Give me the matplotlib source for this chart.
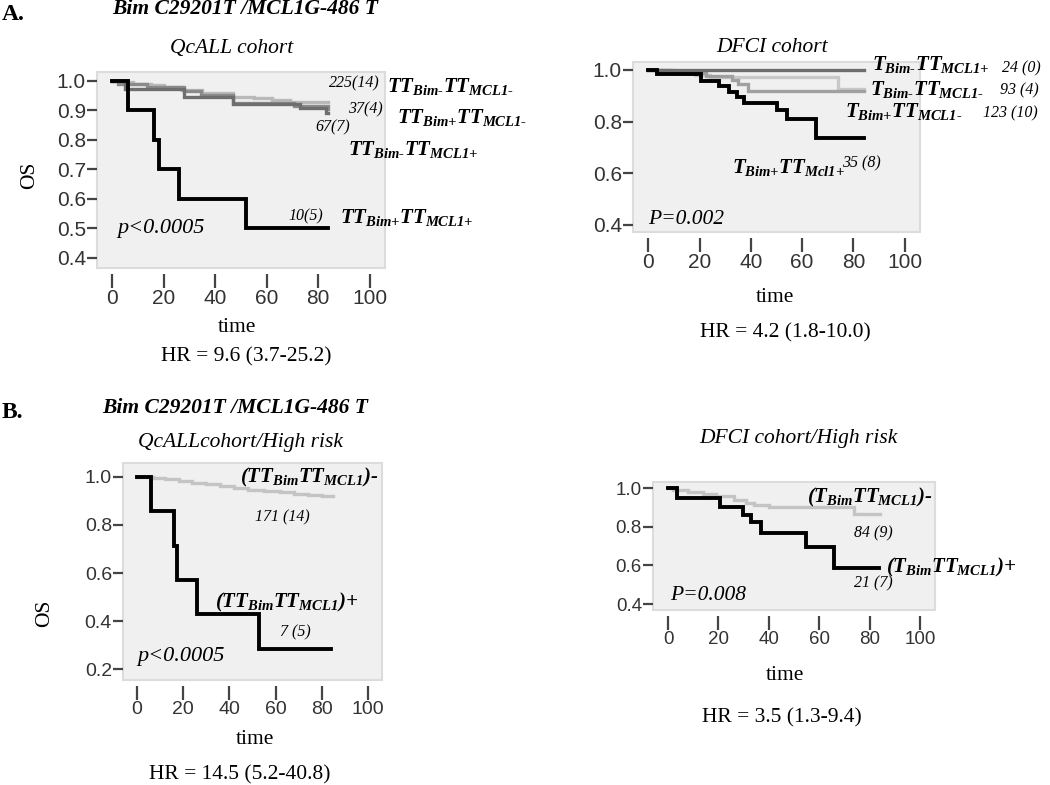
import matplotlib
matplotlib.use("Agg")
import matplotlib.pyplot as plt

# A. whole cohorts: QcALL (left)
qc_bimp_mclp_t = [0, 6, 16, 18, 26, 52, 84]
qc_bimp_mclp_s = [1.0, 0.9, 0.8, 0.7, 0.6, 0.5, 0.5]
qc_bimm_mclm_t = [0, 3, 8, 15, 20, 27, 35, 47, 55, 62, 69, 84]
qc_bimm_mclm_s = [1.0, 0.995, 0.99, 0.985, 0.978, 0.97, 0.96, 0.947, 0.942, 0.937, 0.93, 0.93]
qc_bimp_mclm_t = [0, 5, 28, 47, 73, 83, 84]
qc_bimp_mclm_s = [1.0, 0.973, 0.946, 0.922, 0.908, 0.89, 0.89]
qc_bimm_mclp_t = [0, 2, 13.5, 28, 34.6, 47, 70.5, 84]
qc_bimm_mclp_s = [1.0, 0.99, 0.98, 0.965, 0.952, 0.925, 0.914, 0.905]

# A. DFCI (right)
df_bimp_mclp_t = [0, 3.5, 20.5, 27.5, 31.5, 34.5, 37.5, 50, 54, 65.5, 84]
df_bimp_mclp_s = [1.0, 0.984, 0.958, 0.938, 0.916, 0.897, 0.873, 0.845, 0.81, 0.736, 0.736]
df_bimm_mclp_t = [0, 84]
df_bimm_mclp_s = [1.0, 1.0]
df_bimm_mclm_t = [0, 10, 18, 24, 74, 84]
df_bimm_mclm_s = [1.0, 0.99, 0.98, 0.972, 0.925, 0.925]
df_bimp_mclm_t = [0, 8, 22.5, 32.5, 35, 39, 84]
df_bimp_mclm_s = [1.0, 0.99, 0.975, 0.96, 0.945, 0.92, 0.92]

# B. high risk QcALL (left)
hq_pos_t = [0, 6.3, 16, 17.5, 26, 52.6, 84]
hq_pos_s = [1.0, 0.857, 0.714, 0.571, 0.429, 0.286, 0.286]
hq_neg_t = [0, 7, 12, 18, 24, 30, 36, 42, 48, 55, 62, 68, 74, 80, 85]
hq_neg_s = [1.0, 0.995, 0.99, 0.983, 0.976, 0.968, 0.96, 0.953, 0.946, 0.94, 0.935, 0.93, 0.925, 0.92, 0.92]

# B. high risk DFCI (right)
hd_pos_t = [0, 3.6, 20.6, 29.8, 33, 37, 54.7, 65.9, 83.6]
hd_pos_s = [1.0, 0.947, 0.904, 0.86, 0.826, 0.767, 0.697, 0.586, 0.586]
hd_neg_t = [0, 2, 8, 14, 19, 26, 31, 34, 40, 74, 84]
hd_neg_s = [1.0, 0.99, 0.98, 0.97, 0.96, 0.94, 0.925, 0.91, 0.90, 0.865, 0.865]

x_ticks = [0, 20, 40, 60, 80, 100]

plt.rcParams['mathtext.fontset'] = 'custom'
plt.rcParams['mathtext.rm'] = 'Liberation Serif:bold:italic'
plt.rcParams['mathtext.it'] = 'Liberation Serif:bold:italic'
plt.rcParams['mathtext.bf'] = 'Liberation Serif:bold:italic'

W, H = 1050, 785
fig = plt.figure(figsize=(10.5, 7.85), dpi=100)

SERIF = 'Liberation Serif'
M = r'\text{-}'  # plain hyphen inside math labels
P = r'{+}'


def px_axes(x0, y0, x1, y1):
    # box given in pixels from the top-left corner
    return fig.add_axes([x0 / W, 1 - y1 / H, (x1 - x0) / W, (y1 - y0) / H])


def txt(x, y, s, size=15.5, style='normal', weight='normal', ha='left', va='center', rot=0):
    fig.text(x / W, 1 - y / H, s, fontsize=size, family=SERIF, style=style,
             weight=weight, ha=ha, va=va, rotation=rot)


def lab(x, y, first, bim, mcl, tail=''):
    # genotype label like TT_{Bim-}TT_{MCL1+}, baseline at y
    s = '$' + first + '_{' + bim + '}TT_{' + mcl + '}' + tail + '$'
    txt(x, y, s, size=15, va='baseline')


def setup(ax, ylim, yticks, tsize):
    ax.set_facecolor('#f0f0f0')
    for sp in ax.spines.values():
        sp.set_visible(False)
    ax.patch.set_edgecolor('#dcdcdc')
    ax.patch.set_linewidth(1.5)
    ax.spines['bottom'].set_position(('outward', 4))
    ax.set_xlim(-6, 106)
    ax.set_ylim(*ylim)
    ax.set_xticks(x_ticks)
    ax.set_yticks(yticks)
    ax.set_yticklabels([f'{v:.1f}' for v in yticks])
    ax.tick_params(axis='x', direction='out', length=10, width=1.6, color='#444444', pad=1)
    ax.tick_params(axis='y', direction='out', length=7, width=1.6, color='#444444', pad=1)
    ax.tick_params(labelsize=tsize, labelcolor='#333333', labelfontfamily='Liberation Sans')


def km(ax, t, s, color, lw):
    ax.step(t, s, where='post', color=color, lw=lw, solid_joinstyle='miter')


# ---------- A left ----------
ax1 = px_axes(97, 72, 385, 268)
setup(ax1, (0.366, 1.0305), [0.4, 0.5, 0.6, 0.7, 0.8, 0.9, 1.0], 15)
km(ax1, qc_bimm_mclm_t, qc_bimm_mclm_s, '#b9b9b9', 2.4)
km(ax1, qc_bimm_mclp_t, qc_bimm_mclp_s, '#8a8a8a', 2.4)
km(ax1, qc_bimp_mclm_t, qc_bimp_mclm_s, '#6e6e6e', 2.4)
km(ax1, qc_bimp_mclp_t, qc_bimp_mclp_s, 'black', 2.8)

# ---------- A right ----------
ax2 = px_axes(633, 62, 920, 232)
setup(ax2, (0.372, 1.031), [0.4, 0.6, 0.8, 1.0], 15)
km(ax2, df_bimm_mclm_t, df_bimm_mclm_s, '#c8c8c8', 2.4)
km(ax2, df_bimp_mclm_t, df_bimp_mclm_s, '#a0a0a0', 2.4)
km(ax2, df_bimm_mclp_t, df_bimm_mclp_s, '#6e6e6e', 2.4)
km(ax2, df_bimp_mclp_t, df_bimp_mclp_s, 'black', 2.8)

# ---------- B left ----------
ax3 = px_axes(123, 463, 382, 680)
setup(ax3, (0.156, 1.057), [0.2, 0.4, 0.6, 0.8, 1.0], 14)
km(ax3, hq_neg_t, hq_neg_s, '#c4c4c4', 2.4)
km(ax3, hq_pos_t, hq_pos_s, 'black', 2.8)

# ---------- B right ----------
ax4 = px_axes(653, 482, 935, 610)
setup(ax4, (0.37, 1.031), [0.4, 0.6, 0.8, 1.0], 13.5)
km(ax4, hd_neg_t, hd_neg_s, '#c4c4c4', 2.4)
km(ax4, hd_pos_t, hd_pos_s, 'black', 2.8)

# ---------- texts ----------
txt(2, 14, 'A.', size=17, weight='bold')
txt(112, 9, 'Bim C29201T /MCL1G-486 T', size=15.5, style='italic', weight='bold')
txt(232, 49, 'QcALL cohort', size=15.5, style='italic', ha='center')
txt(772, 47, 'DFCI cohort', size=15.5, style='italic', ha='center')
txt(30, 175, 'OS', ha='center', rot=90)
txt(237, 327, 'time', ha='center')
txt(246, 357, 'HR = 9.6 (3.7-25.2)', ha='center')
txt(775, 297, 'time', ha='center')
txt(785, 333, 'HR = 4.2 (1.8-10.0)', ha='center')

# A left curve labels
txt(380, 83, '225(14)', size=11.5, style='italic', ha='right')
lab(387, 92, 'TT', 'Bim' + M, 'MCL1' + M)
txt(383, 109, '37(4)', size=11.5, style='italic', ha='right')
lab(397, 123, 'TT', 'Bim' + P, 'MCL1' + M)
txt(350, 127, '67(7)', size=11.5, style='italic', ha='right')
lab(348, 155, 'TT', 'Bim' + M, 'MCL1' + P)
txt(323, 216, '10(5)', size=11.5, style='italic', ha='right')
lab(340, 223, 'TT', 'Bim' + P, 'MCL1' + P)
txt(117, 228, 'p<0.0005', size=16, style='italic')

# A right curve labels
lab(872, 70, 'T', 'Bim' + M, 'MCL1' + P)
txt(1002, 68, '24 (0)', size=11.5, style='italic')
lab(870, 95, 'T', 'Bim' + M, 'MCL1' + M)
txt(1000, 90, '93 (4)', size=11.5, style='italic')
lab(845, 117, 'T', 'Bim' + P, 'MCL1' + M)
txt(983, 113, '123 (10)', size=11.5, style='italic')
lab(732, 173, 'T', 'Bim' + P, 'Mcl1' + P)
txt(842, 163, '35 (8)', size=11.5, style='italic')
txt(648, 220, 'P=0.002', size=15.5, style='italic')

# B
txt(2, 412, 'B.', size=17, weight='bold')
txt(102, 408, 'Bim C29201T /MCL1G-486 T', size=15.5, style='italic', weight='bold')
txt(240, 442, 'QcALLcohort/High risk', style='italic', ha='center')
txt(45, 613, 'OS', ha='center', rot=90)
txt(255, 740, 'time', ha='center')
txt(240, 775, 'HR = 14.5 (5.2-40.8)', ha='center')
lab(240, 482, '(TT', 'Bim', 'MCL1', ')' + M)
txt(282, 517, '171 (14)', size=11.5, style='italic', ha='center')
lab(215, 607, '(TT', 'Bim', 'MCL1', ')' + P)
txt(295, 632, '7 (5)', size=11.5, style='italic', ha='center')
txt(137, 656, 'p<0.0005', size=16, style='italic')

txt(798, 438, 'DFCI cohort/High risk', style='italic', ha='center')
txt(785, 675, 'time', ha='center')
txt(782, 718, 'HR = 3.5 (1.3-9.4)', ha='center')
lab(807, 502, '(T', 'Bim', 'MCL1', ')' + M)
txt(873, 533, '84 (9)', size=11.5, style='italic', ha='center')
lab(886, 572, '(T', 'Bim', 'MCL1', ')' + P)
txt(873, 583, '21 (7)', size=11.5, style='italic', ha='center')
txt(670, 595, 'P=0.008', size=15.5, style='italic')

fig.savefig('out.png', dpi=100)
